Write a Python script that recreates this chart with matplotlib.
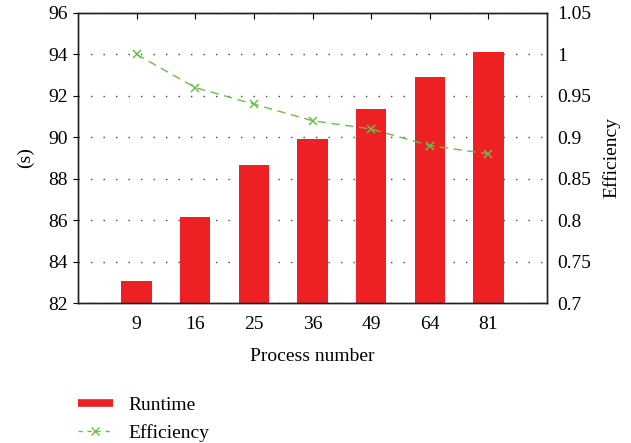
import numpy as np
import matplotlib
matplotlib.use('Agg')
import matplotlib.pyplot as plt
from matplotlib.lines import Line2D

## Data
processes = ['9', '16', '25', '36', '49', '64', '81']
runtime = [83.05, 86.15, 88.65, 89.9, 91.37, 92.9, 94.1]
efficiency = [1.0, 0.96, 0.94, 0.92, 0.91, 0.89, 0.88]

bar_red = '#ed2024'
eff_green = '#6abf4b'

plt.rcParams['font.family'] = ['Liberation Serif', 'DejaVu Serif']
plt.rcParams['font.size'] = 14

fig = plt.figure(figsize=(6.31, 4.43), dpi=100)
ax = fig.add_axes([0.1236, 0.316, 0.7433, 0.6547])
x = np.arange(1, len(processes) + 1)

ax.bar(x, runtime, width=0.52, color=bar_red, zorder=2)
ax.set_xlim(0, len(processes) + 1)
ax.set_ylim(82, 96)
ax.set_yticks(np.arange(82, 97, 2))
ax.set_xticks(x)
ax.set_xticklabels(processes)
ax.tick_params(axis='x', bottom=False, top=True, direction='in', length=4,
               pad=9)
ax.tick_params(axis='y', left=False, pad=4)
ax.yaxis.grid(True, linestyle=(0, (1, 8)), color='#444444', linewidth=1.0)
ax.set_axisbelow(True)
ax.set_ylabel('(s)', labelpad=10)
ax.set_xlabel('Process number', labelpad=11)

ax2 = ax.twinx()
ax2.plot(x, efficiency, color=eff_green, linestyle=(0, (6, 4)),
         linewidth=1.0, marker='x', markersize=6, markeredgewidth=1.1)
ax2.set_ylim(0.7, 1.05)
ax2.set_yticks([0.7, 0.75, 0.8, 0.85, 0.9, 0.95, 1.0, 1.05])
ax2.set_yticklabels(['0.7', '0.75', '0.8', '0.85', '0.9', '0.95', '1', '1.05'])
ax2.tick_params(axis='y', right=False, pad=4)
ax2.set_ylabel('Efficiency', labelpad=8)

for a in (ax, ax2):
    for s in a.spines.values():
        s.set_linewidth(1.0)
        s.set_color('#222222')

handles = [Line2D([], [], color=bar_red, linewidth=5.5, solid_capstyle='butt'),
           Line2D([], [], color=eff_green, linestyle=(0, (3, 3.5)),
                  linewidth=1.0, marker='x', markersize=6)]
fig.legend(handles, ['Runtime', 'Efficiency'], loc='upper left',
           bbox_to_anchor=(0.1236, 0.105), frameon=False, handlelength=1.8,
           labelspacing=0.5, handletextpad=0.8, borderaxespad=0,
           borderpad=0)

fig.savefig('out.png', dpi=100)
